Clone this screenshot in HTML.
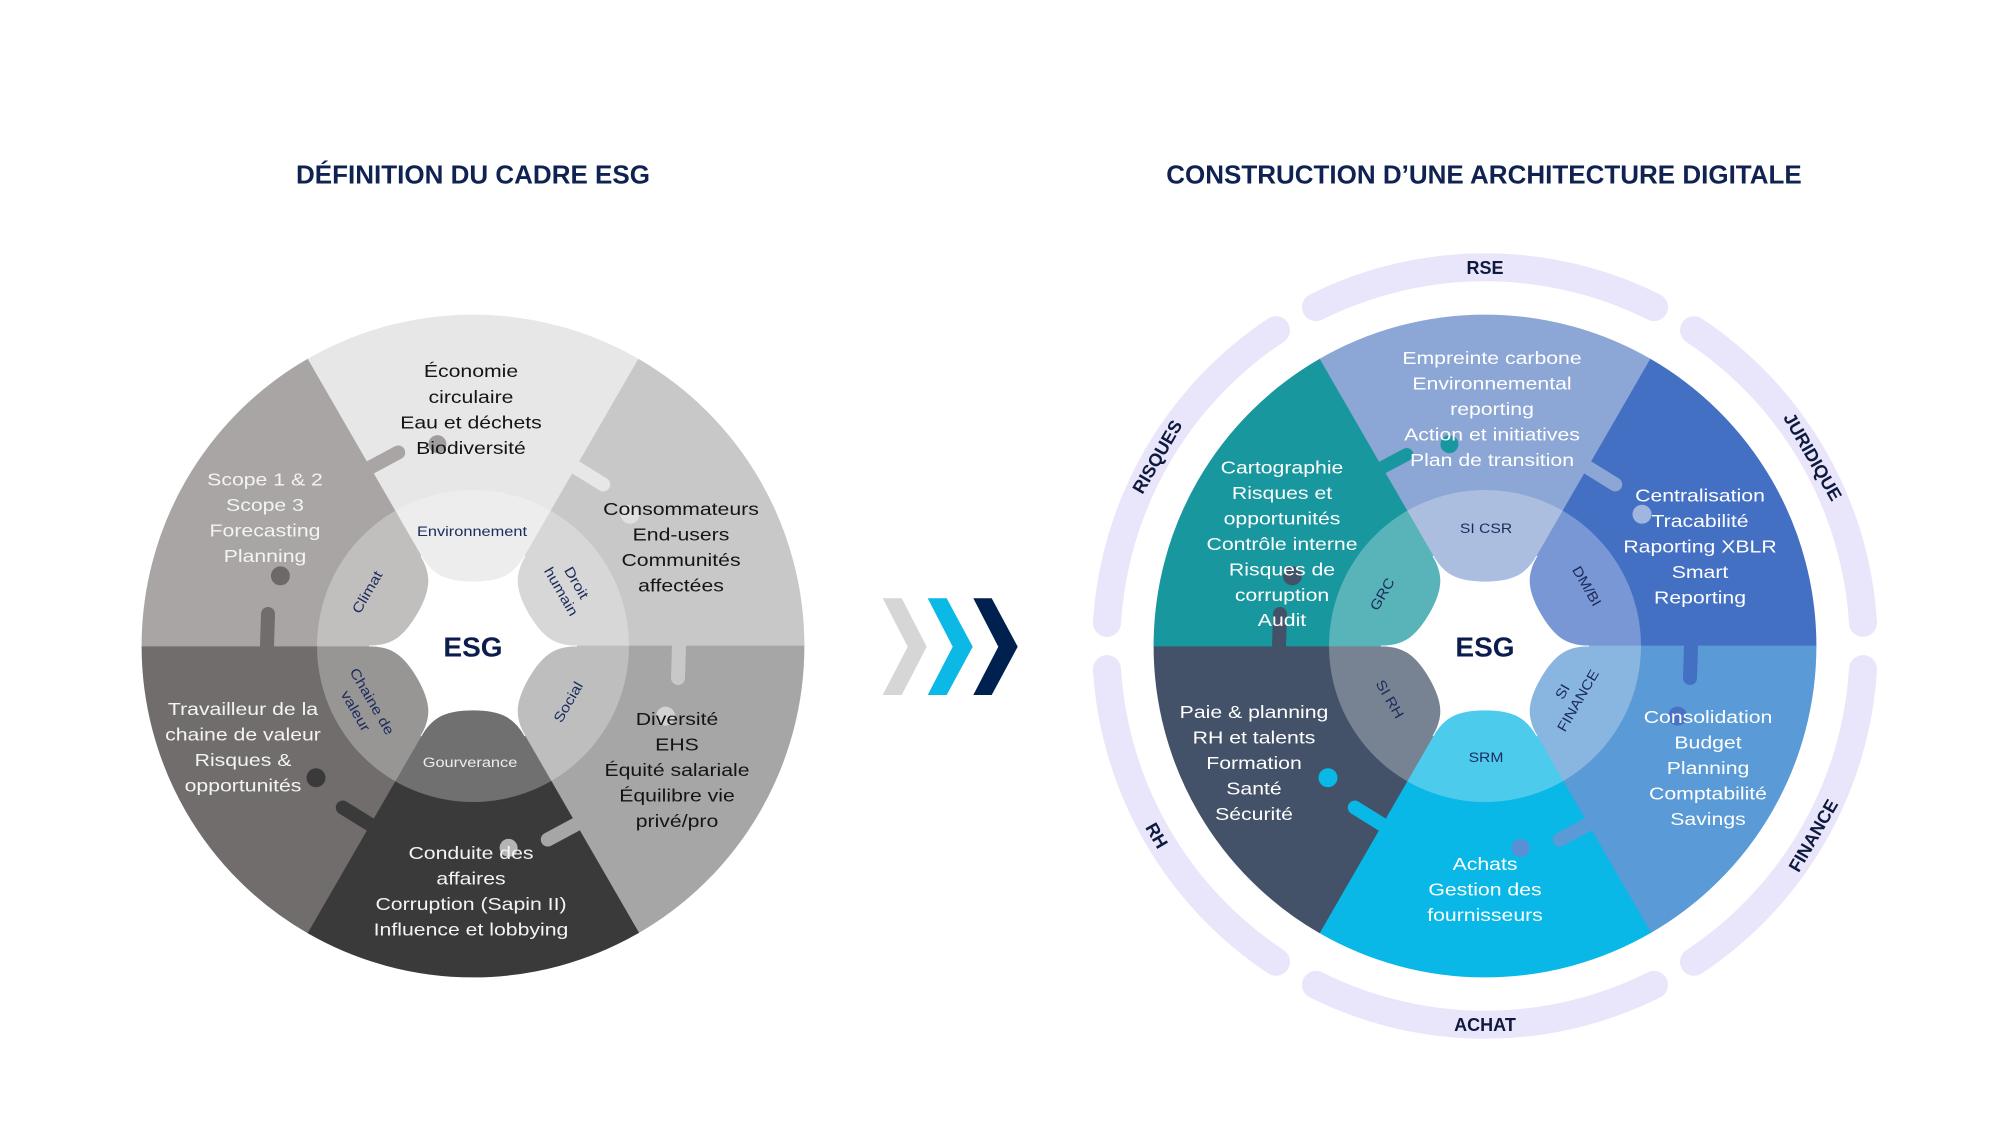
<!DOCTYPE html>
<html>
<head>
<meta charset="utf-8">
<style>
  html, body { margin:0; padding:0; background:#ffffff; }
  body { width:2000px; height:1132px; overflow:hidden; }
  svg { display:block; }
  text { font-family: "Liberation Sans", Arial, sans-serif; }
</style>
</head>
<body>
<svg width="2000" height="1132" viewBox="0 0 2000 1132" xmlns="http://www.w3.org/2000/svg">
  <rect x="0" y="0" width="2000" height="1132" fill="#ffffff"/>

  <!-- Titles -->
  <text x="473" y="183.5" text-anchor="middle" font-size="26" font-weight="bold" fill="#0f2251">DÉFINITION DU CADRE ESG</text>
  <text x="1484" y="183.5" text-anchor="middle" font-size="26" font-weight="bold" fill="#0f2251">CONSTRUCTION D’UNE ARCHITECTURE DIGITALE</text>

  <!-- ================= LEFT CIRCLE ================= -->
  <g transform="translate(473 646)">
    <!-- wedges -->
    <path d="M0 0 L286.65 165.5 A331 331 0 0 0 286.65 -165.5 Z" transform="rotate(-90)" fill="#e7e7e7" stroke="#e7e7e7" stroke-width="0.8"/>
    <path d="M0 0 L286.65 165.5 A331 331 0 0 0 286.65 -165.5 Z" transform="rotate(-30)" fill="#c8c8c8" stroke="#c8c8c8" stroke-width="0.8"/>
    <path d="M0 0 L286.65 165.5 A331 331 0 0 0 286.65 -165.5 Z" transform="rotate(30)" fill="#a6a6a6" stroke="#a6a6a6" stroke-width="0.8"/>
    <path d="M0 0 L286.65 165.5 A331 331 0 0 0 286.65 -165.5 Z" transform="rotate(90)" fill="#3b3a3b" stroke="#3b3a3b" stroke-width="0.8"/>
    <path d="M0 0 L286.65 165.5 A331 331 0 0 0 286.65 -165.5 Z" transform="rotate(150)" fill="#716d6d" stroke="#716d6d" stroke-width="0.8"/>
    <path d="M0 0 L286.65 165.5 A331 331 0 0 0 286.65 -165.5 Z" transform="rotate(-150)" fill="#a9a5a5" stroke="#a9a5a5" stroke-width="0.8"/>

    <!-- puzzle stems and dots -->
    <g transform="rotate(0)"><line x1="206" y1="0" x2="205" y2="32" stroke="#c8c8c8" stroke-width="14" stroke-linecap="round"/><circle cx="192.6" cy="70.1" r="9.5" fill="#d2d2d2"/></g>
    <g transform="rotate(-60)"><line x1="206" y1="0" x2="205" y2="32" stroke="#e7e7e7" stroke-width="14" stroke-linecap="round"/><circle cx="192.6" cy="70.1" r="9.5" fill="#e0e0e0"/></g>
    <g transform="rotate(-120)"><line x1="206" y1="0" x2="205" y2="32" stroke="#a9a5a5" stroke-width="14" stroke-linecap="round"/><circle cx="192.6" cy="70.1" r="9" fill="#a19d9d"/></g>
    <g transform="rotate(-180)"><line x1="206" y1="0" x2="205" y2="32" stroke="#716d6d" stroke-width="14" stroke-linecap="round"/><circle cx="192.6" cy="70.1" r="9.5" fill="#6d6969"/></g>
    <g transform="rotate(-240)"><line x1="206" y1="0" x2="205" y2="32" stroke="#3b3a3b" stroke-width="14" stroke-linecap="round"/><circle cx="192.6" cy="70.1" r="9.5" fill="#3b3a3b"/></g>
    <g transform="rotate(-300)"><line x1="206" y1="0" x2="205" y2="32" stroke="#a6a6a6" stroke-width="14" stroke-linecap="round"/><circle cx="192.6" cy="70.1" r="9" fill="#b4b4b4"/></g>

    <!-- inner translucent ring -->
    <circle cx="0" cy="0" r="156" fill="#ffffff" fill-opacity="0.28"/>

    <!-- white star -->
    <g fill="#ffffff" stroke="#ffffff" stroke-width="0.8">
      <path d="M0 0 L90 52 C72.7 42 64 30 64 0 C64 -30 72.7 -42 90 -52 Z" transform="rotate(30)"/>
      <path d="M0 0 L90 52 C72.7 42 64 30 64 0 C64 -30 72.7 -42 90 -52 Z" transform="rotate(90)"/>
      <path d="M0 0 L90 52 C72.7 42 64 30 64 0 C64 -30 72.7 -42 90 -52 Z" transform="rotate(150)"/>
      <path d="M0 0 L90 52 C72.7 42 64 30 64 0 C64 -30 72.7 -42 90 -52 Z" transform="rotate(210)"/>
      <path d="M0 0 L90 52 C72.7 42 64 30 64 0 C64 -30 72.7 -42 90 -52 Z" transform="rotate(270)"/>
      <path d="M0 0 L90 52 C72.7 42 64 30 64 0 C64 -30 72.7 -42 90 -52 Z" transform="rotate(330)"/>
    </g>
  </g>

  <!-- left ESG -->
  <text x="473" y="656.5" text-anchor="middle" font-size="28" font-weight="bold" fill="#0c1d4d">ESG</text>

  <!-- left inner labels -->
  <g font-size="14" fill="#1c2b5c" text-anchor="middle">
    <text transform="translate(472 531) scale(1.17 1)" y="5">Environnement</text>
    <text transform="translate(367 592) rotate(-60) scale(1.17 1)" y="5">Climat</text>
    <g transform="translate(569 587) rotate(60) scale(1.17 1)">
      <text y="-3.9">Droit</text>
      <text y="13.8">humain</text>
    </g>
    <text transform="translate(568 702) rotate(-60) scale(1.17 1)" y="5">Social</text>
    <g transform="translate(364 706) rotate(60) scale(1.17 1)">
      <text y="-4.5">Chaine de</text>
      <text y="14.5">valeur</text>
    </g>
    <text transform="translate(470 762) scale(1.17 1)" y="5" fill="#ededed">Gourverance</text>
  </g>

  <!-- left block texts -->
  <g transform="translate(471 0) scale(1.18 1)" font-size="18" fill="#141414" text-anchor="middle">
    <text x="0" y="377">Économie</text>
    <text x="0" y="403">circulaire</text>
    <text x="0" y="428.5">Eau et déchets</text>
    <text x="0" y="454">Biodiversité</text>
  </g>
  <g transform="translate(265 0) scale(1.18 1)" font-size="18" fill="#f4f4f4" text-anchor="middle">
    <text x="0" y="485.7">Scope 1 &amp; 2</text>
    <text x="0" y="511">Scope 3</text>
    <text x="0" y="536.7">Forecasting</text>
    <text x="0" y="562">Planning</text>
  </g>
  <g transform="translate(681 0) scale(1.18 1)" font-size="18" fill="#141414" text-anchor="middle">
    <text x="0" y="515">Consommateurs</text>
    <text x="0" y="540.5">End-users</text>
    <text x="0" y="566">Communités</text>
    <text x="0" y="591.5">affectées</text>
  </g>
  <g transform="translate(677 0) scale(1.18 1)" font-size="18" fill="#141414" text-anchor="middle">
    <text x="0" y="725">Diversité</text>
    <text x="0" y="750.5">EHS</text>
    <text x="0" y="776">Équité salariale</text>
    <text x="0" y="801.5">Équilibre vie</text>
    <text x="0" y="827">privé/pro</text>
  </g>
  <g transform="translate(471 0) scale(1.18 1)" font-size="18" fill="#f4f4f4" text-anchor="middle">
    <text x="0" y="859">Conduite des</text>
    <text x="0" y="884.5">affaires</text>
    <text x="0" y="910">Corruption (Sapin II)</text>
    <text x="0" y="935.5">Influence et lobbying</text>
  </g>
  <g transform="translate(243 0) scale(1.18 1)" font-size="18" fill="#f4f4f4" text-anchor="middle">
    <text x="0" y="715">Travailleur de la</text>
    <text x="0" y="740.5">chaine de valeur</text>
    <text x="0" y="766">Risques &amp;</text>
    <text x="0" y="791.5">opportunités</text>
  </g>

  <!-- ================= CHEVRONS ================= -->
  <polygon points="882.7,598.3 901.7,598.3 926.7,646.7 901.7,695 882.7,695 907.7,646.7" fill="#d6d6d6"/>
  <polygon points="927.7,598.3 946.7,598.3 972.7,646.7 946.7,695 927.7,695 952.7,646.7" fill="#0bb8e6"/>
  <polygon points="973.3,598.3 991.7,598.3 1017.7,646.7 991.7,695 973.3,695 998.3,646.7" fill="#00204f"/>

  <!-- ================= RIGHT CIRCLE ================= -->
  <g transform="translate(1485 646)">
    <!-- outer band arcs -->
    <g fill="none" stroke="#e9e5fa" stroke-width="28" stroke-linecap="round">
      <path d="M338.9 169 A378.7 378.7 0 0 0 338.9 -169" transform="rotate(-90)"/>
      <path d="M338.9 169 A378.7 378.7 0 0 0 338.9 -169" transform="rotate(-30)"/>
      <path d="M338.9 169 A378.7 378.7 0 0 0 338.9 -169" transform="rotate(30)"/>
      <path d="M338.9 169 A378.7 378.7 0 0 0 338.9 -169" transform="rotate(90)"/>
      <path d="M338.9 169 A378.7 378.7 0 0 0 338.9 -169" transform="rotate(150)"/>
      <path d="M338.9 169 A378.7 378.7 0 0 0 338.9 -169" transform="rotate(-150)"/>
    </g>

    <!-- wedges -->
    <path d="M0 0 L286.65 165.5 A331 331 0 0 0 286.65 -165.5 Z" transform="rotate(-90)" fill="#8ca6d5" stroke="#8ca6d5" stroke-width="0.8"/>
    <path d="M0 0 L286.65 165.5 A331 331 0 0 0 286.65 -165.5 Z" transform="rotate(-30)" fill="#4470c4" stroke="#4470c4" stroke-width="0.8"/>
    <path d="M0 0 L286.65 165.5 A331 331 0 0 0 286.65 -165.5 Z" transform="rotate(30)" fill="#5a9ad6" stroke="#5a9ad6" stroke-width="0.8"/>
    <path d="M0 0 L286.65 165.5 A331 331 0 0 0 286.65 -165.5 Z" transform="rotate(90)" fill="#09b8e6" stroke="#09b8e6" stroke-width="0.8"/>
    <path d="M0 0 L286.65 165.5 A331 331 0 0 0 286.65 -165.5 Z" transform="rotate(150)" fill="#435268" stroke="#435268" stroke-width="0.8"/>
    <path d="M0 0 L286.65 165.5 A331 331 0 0 0 286.65 -165.5 Z" transform="rotate(-150)" fill="#19979e" stroke="#19979e" stroke-width="0.8"/>

    <!-- puzzle stems and dots -->
    <g transform="rotate(0)"><line x1="206" y1="0" x2="205" y2="32" stroke="#4470c4" stroke-width="14" stroke-linecap="round"/><circle cx="192.6" cy="70.1" r="9.5" fill="#4a72c4"/></g>
    <g transform="rotate(-60)"><line x1="206" y1="0" x2="205" y2="32" stroke="#8ca6d5" stroke-width="14" stroke-linecap="round"/><circle cx="192.6" cy="70.1" r="9.5" fill="#a0b5e0"/></g>
    <g transform="rotate(-120)"><line x1="206" y1="0" x2="205" y2="28" stroke="#19979e" stroke-width="13" stroke-linecap="round"/><circle cx="192.6" cy="70.1" r="9" fill="#19979e"/></g>
    <g transform="rotate(-180)"><line x1="206" y1="0" x2="205" y2="32" stroke="#435268" stroke-width="14" stroke-linecap="round"/><circle cx="192.6" cy="70.1" r="9.5" fill="#435268"/></g>
    <g transform="rotate(-240)"><line x1="206" y1="0" x2="205" y2="32" stroke="#09b8e6" stroke-width="14" stroke-linecap="round"/><circle cx="192.6" cy="70.1" r="9.5" fill="#09b8e6"/></g>
    <g transform="rotate(-300)"><line x1="206" y1="0" x2="205" y2="32" stroke="#5a9ad6" stroke-width="14" stroke-linecap="round"/><circle cx="192.6" cy="70.1" r="9" fill="#5b8fd4"/></g>

    <!-- inner translucent ring -->
    <circle cx="0" cy="0" r="156" fill="#ffffff" fill-opacity="0.28"/>

    <!-- white star -->
    <g fill="#ffffff" stroke="#ffffff" stroke-width="0.8">
      <path d="M0 0 L90 52 C72.7 42 64 30 64 0 C64 -30 72.7 -42 90 -52 Z" transform="rotate(30)"/>
      <path d="M0 0 L90 52 C72.7 42 64 30 64 0 C64 -30 72.7 -42 90 -52 Z" transform="rotate(90)"/>
      <path d="M0 0 L90 52 C72.7 42 64 30 64 0 C64 -30 72.7 -42 90 -52 Z" transform="rotate(150)"/>
      <path d="M0 0 L90 52 C72.7 42 64 30 64 0 C64 -30 72.7 -42 90 -52 Z" transform="rotate(210)"/>
      <path d="M0 0 L90 52 C72.7 42 64 30 64 0 C64 -30 72.7 -42 90 -52 Z" transform="rotate(270)"/>
      <path d="M0 0 L90 52 C72.7 42 64 30 64 0 C64 -30 72.7 -42 90 -52 Z" transform="rotate(330)"/>
    </g>
  </g>

  <!-- band labels -->
  <g font-size="18" font-weight="bold" fill="#0e1a3d" text-anchor="middle">
    <text transform="translate(1485 267.3)" y="6.5">RSE</text>
    <text transform="translate(1157 456.6) rotate(-60)" y="6.5">RISQUES</text>
    <text transform="translate(1813 456.6) rotate(60)" y="6.5">JURIDIQUE</text>
    <text transform="translate(1813 835.4) rotate(-60)" y="6.5">FINANCE</text>
    <text transform="translate(1157 835.4) rotate(60)" y="6.5">RH</text>
    <text transform="translate(1485 1024.7)" y="6.5">ACHAT</text>
  </g>

  <!-- right ESG -->
  <text x="1485" y="656.5" text-anchor="middle" font-size="28" font-weight="bold" fill="#0c1d4d">ESG</text>

  <!-- right inner labels -->
  <g font-size="14" fill="#1c2b5c" text-anchor="middle">
    <text transform="translate(1486 528) scale(1.12 1)" y="5">SI CSR</text>
    <text transform="translate(1382 594) rotate(-60) scale(1.12 1)" y="5">GRC</text>
    <text transform="translate(1587 586) rotate(60) scale(1.12 1)" y="5">DM/BI</text>
    <text transform="translate(1390 699) rotate(60) scale(1.12 1)" y="5">SI RH</text>
    <g transform="translate(1570 696) rotate(-60) scale(1.12 1)">
      <text y="-4">SI</text>
      <text y="14">FINANCE</text>
    </g>
    <text transform="translate(1486 757) scale(1.12 1)" y="5">SRM</text>
  </g>

  <!-- right block texts -->
  <g font-size="18" fill="#ffffff" text-anchor="middle">
    <g transform="translate(1492 0) scale(1.18 1)">
      <text x="0" y="364">Empreinte carbone</text>
      <text x="0" y="389.5">Environnemental</text>
      <text x="0" y="415">reporting</text>
      <text x="0" y="440.5">Action et initiatives</text>
      <text x="0" y="466">Plan de transition</text>
    </g>
    <g transform="translate(1282 0) scale(1.18 1)">
      <text x="0" y="473.5">Cartographie</text>
      <text x="0" y="499">Risques et</text>
      <text x="0" y="524.5">opportunités</text>
      <text x="0" y="550">Contrôle interne</text>
      <text x="0" y="575.5">Risques de</text>
      <text x="0" y="601">corruption</text>
      <text x="0" y="626">Audit</text>
    </g>
    <g transform="translate(1700 0) scale(1.18 1)">
      <text x="0" y="501.5">Centralisation</text>
      <text x="0" y="527">Tracabilité</text>
      <text x="0" y="552.5">Raporting XBLR</text>
      <text x="0" y="578">Smart</text>
      <text x="0" y="603.5">Reporting</text>
    </g>
    <g transform="translate(1708 0) scale(1.18 1)">
      <text x="0" y="723">Consolidation</text>
      <text x="0" y="748.5">Budget</text>
      <text x="0" y="774">Planning</text>
      <text x="0" y="799.5">Comptabilité</text>
      <text x="0" y="825">Savings</text>
    </g>
    <g transform="translate(1485 0) scale(1.18 1)">
      <text x="0" y="870">Achats</text>
      <text x="0" y="895.5">Gestion des</text>
      <text x="0" y="921">fournisseurs</text>
    </g>
    <g transform="translate(1254 0) scale(1.18 1)">
      <text x="0" y="718">Paie &amp; planning</text>
      <text x="0" y="743.5">RH et talents</text>
      <text x="0" y="769">Formation</text>
      <text x="0" y="794.5">Santé</text>
      <text x="0" y="820">Sécurité</text>
    </g>
  </g>
</svg>
</body>
</html>
